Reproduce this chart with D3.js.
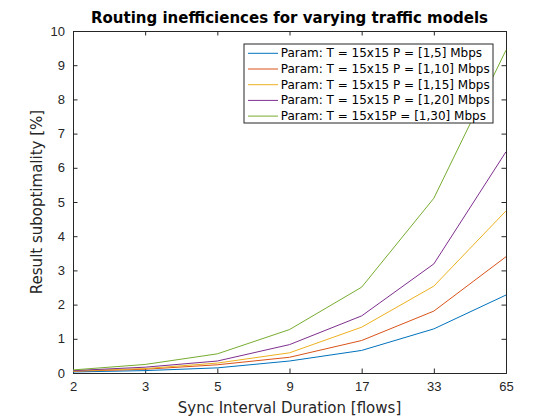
<!DOCTYPE html>
<html>
<head>
<meta charset="utf-8">
<script src="https://cdn.jsdelivr.net/npm/d3@7"></script>
<style>
  body { margin: 0; background: #fff; }
  svg { font-family: "DejaVu Sans", sans-serif; }
</style>
</head>
<body>
<div id="chart"></div>
<script>
// ─── Data ───────────────────────────────────────────────────
const intervals = ["2", "3", "5", "9", "17", "33", "65"];
const yTicks = [0, 1, 2, 3, 4, 5, 6, 7, 8, 9, 10];

const seriesNames = [
  "Param: T = 15x15 P = [1,5] Mbps",
  "Param: T = 15x15 P = [1,10] Mbps",
  "Param: T = 15x15 P = [1,15] Mbps",
  "Param: T = 15x15 P = [1,20] Mbps",
  "Param: T = 15x15P = [1,30] Mbps"
];
const p5 = [0.03, 0.07, 0.15, 0.35, 0.66, 1.29, 2.28];
const p10 = [0.05, 0.11, 0.24, 0.46, 0.95, 1.81, 3.40];
const p15 = [0.06, 0.13, 0.29, 0.59, 1.34, 2.54, 4.74];
const p20 = [0.07, 0.17, 0.35, 0.83, 1.67, 3.19, 6.47];
const p30 = [0.09, 0.25, 0.56, 1.27, 2.51, 5.11, 9.44];
const seriesValues = [p5, p10, p15, p20, p30];
const colors = ["#0072BD", "#D95319", "#EDB120", "#7E2F8E", "#77AC30"];

// ─── Layout ─────────────────────────────────────────────────
const W = 560, H = 420;
const m = { left: 73, right: 54, top: 31, bottom: 47 };
const axisColor = "#262626";

const svg = d3.select("#chart").append("svg")
  .attr("width", W).attr("height", H);

const x = d3.scalePoint().domain(intervals).range([m.left, W - m.right]);
const y = d3.scaleLinear().domain([0, 10]).range([H - m.bottom, m.top]);

// Axes (ticks inward, box on)
const tickLen = 4.5;
svg.append("g")
  .attr("transform", `translate(0,${H - m.bottom})`)
  .call(d3.axisBottom(x).tickSize(-tickLen).tickPadding(9));
svg.append("g")
  .attr("transform", `translate(${m.left},0)`)
  .call(d3.axisLeft(y).tickValues(yTicks).tickSize(-tickLen).tickPadding(8));
svg.append("g")
  .attr("transform", `translate(0,${m.top})`)
  .call(d3.axisTop(x).tickSize(-tickLen).tickFormat(""));
svg.append("g")
  .attr("transform", `translate(${W - m.right},0)`)
  .call(d3.axisRight(y).tickValues(yTicks).tickSize(-tickLen).tickFormat(""));

svg.selectAll(".domain").attr("stroke", axisColor);
svg.selectAll(".tick line").attr("stroke", axisColor);
svg.selectAll(".tick text").attr("fill", axisColor).style("font-size", "13px");

// Lines
const line = d3.line()
  .x((d, i) => x(intervals[i]))
  .y(d => y(d));

seriesValues.forEach((vals, i) => {
  svg.append("path")
    .datum(vals)
    .attr("fill", "none")
    .attr("stroke", colors[i])
    .attr("stroke-width", 1)
    .attr("d", line);
});

// Labels
svg.append("text")
  .attr("x", (m.left + W - m.right) / 2).attr("y", 23)
  .attr("text-anchor", "middle")
  .style("font-size", "15px").style("font-weight", "bold")
  .attr("fill", "#000")
  .text("Routing inefficiences for varying traffic models");

svg.append("text")
  .attr("x", (m.left + W - m.right) / 2).attr("y", 413)
  .attr("text-anchor", "middle")
  .style("font-size", "15px")
  .attr("fill", axisColor)
  .text("Sync Interval Duration [flows]");

svg.append("text")
  .attr("transform", `translate(42,${(m.top + H - m.bottom) / 2}) rotate(-90)`)
  .attr("text-anchor", "middle")
  .style("font-size", "15px")
  .attr("fill", axisColor)
  .text("Result suboptimality [%]");

// Legend
const lg = { x: 244, y: 44, w: 249, h: 79, row: 15.7 };
const legend = svg.append("g");
legend.append("rect")
  .attr("x", lg.x).attr("y", lg.y).attr("width", lg.w).attr("height", lg.h)
  .attr("fill", "#fff").attr("stroke", axisColor).attr("stroke-width", 1);
seriesNames.forEach((name, i) => {
  const base = lg.y + 13.3 + i * lg.row;
  legend.append("line")
    .attr("x1", lg.x + 4).attr("x2", lg.x + 34)
    .attr("y1", base - 4).attr("y2", base - 4)
    .attr("stroke", colors[i]).attr("stroke-width", 1);
  legend.append("text")
    .attr("x", lg.x + 36.7).attr("y", base)
    .style("font-size", "12px")
    .attr("fill", "#000")
    .text(name);
});
</script>
</body>
</html>
